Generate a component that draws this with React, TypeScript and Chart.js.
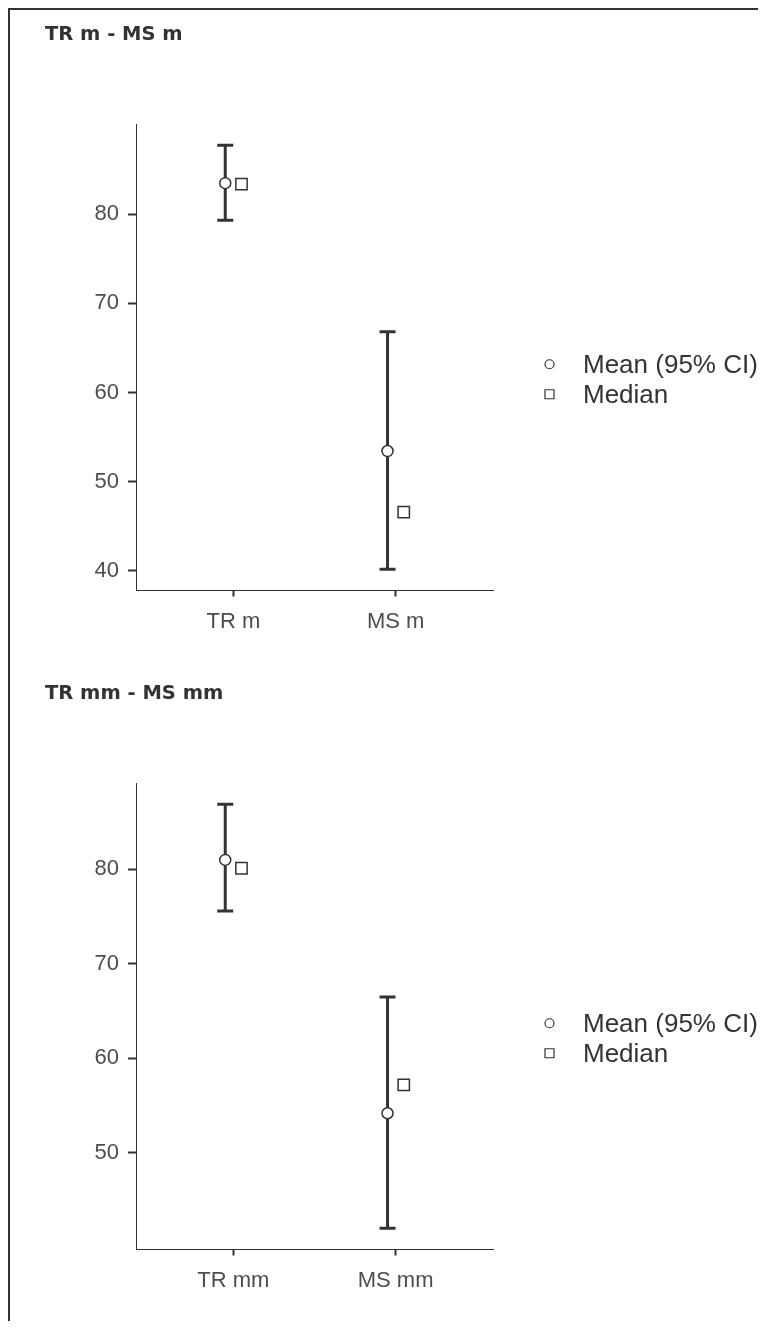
import React, { useEffect, useRef } from 'react';
import { Chart, registerables } from 'chart.js';

Chart.register(...registerables);

// ---------- data ----------
const titleA = 'TR m - MS m';
const categoriesA = ['TR m', 'MS m'];
const meanA = [83.48, 53.45];
const lowerA = [79.33, 40.19];
const upperA = [87.74, 66.83];
const medianA = [83.37, 46.61];
const yTicksA = [40, 50, 60, 70, 80];

const titleB = 'TR mm - MS mm';
const categoriesB = ['TR mm', 'MS mm'];
const meanB = [80.98, 54.2];
const lowerB = [75.59, 42.04];
const upperB = [86.87, 66.5];
const medianB = [80.1, 57.2];
const yTicksB = [50, 60, 70, 80];

const legendLabels = ['Mean (95% CI)', 'Median'];

// ---------- style ----------
const DARK = '#333333';
const TICK_TEXT = '#4d4d4d';
const DODGE = 0.05;
const CANVAS_W = 756;
const CANVAS_H = 640;

const legendPlugin = {
  id: 'ciLegend',
  afterDraw(chart: any) {
    const { ctx, chartArea } = chart;
    const cx = chartArea.right + 56.5;
    const midY = (chartArea.top + chartArea.bottom) / 2;
    const rows = [midY + 7, midY + 37];
    ctx.save();
    ctx.lineWidth = 1.2;
    ctx.strokeStyle = DARK;
    ctx.fillStyle = '#ffffff';
    // circle
    ctx.beginPath();
    ctx.arc(cx, rows[0], 4.5, 0, Math.PI * 2);
    ctx.fill();
    ctx.stroke();
    // square
    ctx.beginPath();
    ctx.rect(cx - 4.5, rows[1] - 4.5, 9, 9);
    ctx.fill();
    ctx.stroke();
    ctx.fillStyle = DARK;
    ctx.font = '26px "Liberation Sans", Arial, sans-serif';
    ctx.textBaseline = 'middle';
    ctx.textAlign = 'left';
    legendLabels.forEach((t, i) => ctx.fillText(t, chartArea.right + 90, rows[i] + 2));
    ctx.restore();
  },
};

function makeConfig(
  title: string,
  cats: string[],
  mean: number[],
  lower: number[],
  upper: number[],
  median: number[],
  yTicks: number[]
): any {
  const lo = Math.min(...lower);
  const hi = Math.max(...upper);
  const pad = (hi - lo) * 0.05;

  const barSets = cats.map((_, i) => ({
    type: 'scatter',
    showLine: true,
    data: [
      { x: i + 1 - DODGE, y: lower[i] },
      { x: i + 1 - DODGE, y: upper[i] },
    ],
    borderColor: DARK,
    borderWidth: 3,
    pointRadius: 0,
    order: 3,
  }));

  const caps = {
    type: 'scatter',
    data: cats.flatMap((_, i) => [
      { x: i + 1 - DODGE, y: lower[i] },
      { x: i + 1 - DODGE, y: upper[i] },
    ]),
    pointStyle: 'line',
    pointRadius: 8,
    pointBorderWidth: 3,
    borderColor: DARK,
    order: 2,
  };

  const means = {
    type: 'scatter',
    data: cats.map((_, i) => ({ x: i + 1 - DODGE, y: mean[i] })),
    pointStyle: 'circle',
    pointRadius: 5.5,
    pointBorderWidth: 1.5,
    pointBackgroundColor: '#ffffff',
    pointBorderColor: DARK,
    order: 0,
  };

  const medians = {
    type: 'scatter',
    data: cats.map((_, i) => ({ x: i + 1 + DODGE, y: median[i] })),
    pointStyle: 'rect',
    pointRadius: 8,
    pointBorderWidth: 1.5,
    pointBackgroundColor: '#ffffff',
    pointBorderColor: DARK,
    order: 1,
  };

  return {
    type: 'scatter',
    data: { datasets: [...barSets, caps, means, medians] },
    plugins: [legendPlugin],
    options: {
      responsive: false,
      animation: false,
      events: [],
      devicePixelRatio: 1,
      layout: { padding: { left: 35, right: 273, top: 0, bottom: 0 } },
      plugins: {
        legend: { display: false },
        tooltip: { enabled: false },
        title: {
          display: true,
          text: title,
          align: 'start',
          color: DARK,
          font: { family: '"DejaVu Sans", sans-serif', size: 19.5, weight: 'bold', lineHeight: 1.2 },
          padding: { top: 13.3, bottom: 77.3 },
        },
      },
      scales: {
        x: {
          type: 'linear',
          position: 'bottom',
          min: 0.4,
          max: 2.6,
          afterBuildTicks: (scale: any) => {
            scale.ticks = cats.map((_, i) => ({ value: i + 1 }));
          },
          afterFit: (scale: any) => {
            scale.height = 59.5;
          },
          grid: {
            display: true,
            drawOnChartArea: false,
            drawTicks: true,
            tickLength: 6,
            tickWidth: 2,
            tickColor: DARK,
          },
          border: { display: true, color: DARK, width: 1 },
          ticks: {
            autoSkip: false,
            maxRotation: 0,
            padding: 12,
            color: TICK_TEXT,
            font: { family: '"Liberation Sans", Arial, sans-serif', size: 22 },
            callback: (_v: any, idx: number) => cats[idx],
          },
        },
        y: {
          type: 'linear',
          min: lo - pad,
          max: hi + pad,
          afterBuildTicks: (scale: any) => {
            scale.ticks = yTicks.map((v) => ({ value: v }));
          },
          afterFit: (scale: any) => {
            scale.width = 91;
          },
          grid: {
            display: true,
            drawOnChartArea: false,
            drawTicks: true,
            tickLength: 8,
            tickWidth: 2,
            tickColor: DARK,
          },
          border: { display: true, color: DARK, width: 1 },
          ticks: {
            padding: 9,
            color: TICK_TEXT,
            font: { family: '"Liberation Sans", Arial, sans-serif', size: 22 },
          },
        },
      },
    },
  };
}

function Panel({ config, height }: { config: () => any; height: number }) {
  const ref = useRef<HTMLCanvasElement>(null);
  useEffect(() => {
    const chart = new Chart(ref.current as HTMLCanvasElement, config());
    return () => chart.destroy();
  }, []);
  return (
    <div style={{ height, overflow: 'hidden' }}>
      <canvas ref={ref} width={CANVAS_W} height={CANVAS_H} style={{ display: 'block' }} />
    </div>
  );
}

export default function App() {
  return (
    <div
      style={{
        borderTop: '2px solid #333',
        borderLeft: '2px solid #333',
        marginRight: -8,
        height: 1311,
        overflow: 'hidden',
        background: '#fff',
      }}
    >
      <Panel
        height={659}
        config={() => makeConfig(titleA, categoriesA, meanA, lowerA, upperA, medianA, yTicksA)}
      />
      <Panel
        height={640}
        config={() => makeConfig(titleB, categoriesB, meanB, lowerB, upperB, medianB, yTicksB)}
      />
    </div>
  );
}
